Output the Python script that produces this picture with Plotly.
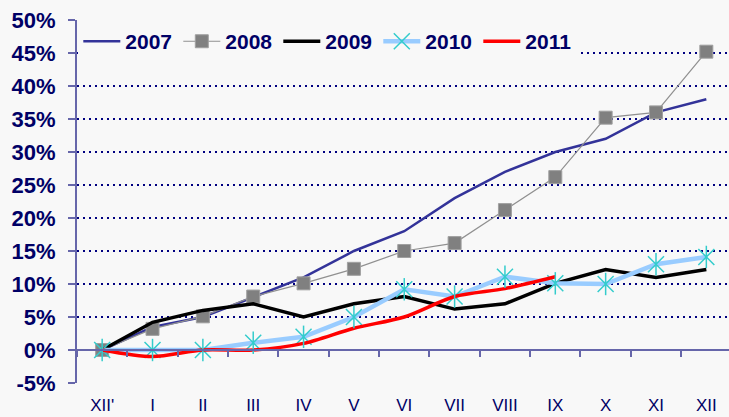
import plotly.graph_objects as go

# Month labels (XII' = December of the previous year)
months = ["XII'", "I", "II", "III", "IV", "V", "VI", "VII", "VIII", "IX", "X", "XI", "XII"]

# Cumulative change since previous December, percent
y2007 = [0, 3.5, 5, 8, 11, 15, 18, 23, 27, 30, 32, 36, 38]
y2008 = [0, 3.2, 5.1, 8.1, 10.1, 12.3, 15, 16.2, 21.2, 26.2, 35.2, 36, 45.2]
y2009 = [0, 4.2, 6, 7, 5, 7, 8.1, 6.2, 7, 10.1, 12.2, 11, 12.2]
y2010 = [0, 0, 0, 1.1, 2, 5, 9.2, 8.1, 11.1, 10.1, 10, 13, 14.1]
y2011 = [0, -1, 0, 0, 1, 3.3, 5, 8.1, 9.3, 11.1]

# Value axis ticks
ytick_vals = [-5, 0, 5, 10, 15, 20, 25, 30, 35, 40, 45, 50]
ytick_text = ["-5%", "0%", "5%", "10%", "15%", "20%", "25%", "30%", "35%", "40%", "45%", "50%"]

NAVY = "#000066"
AXIS = "#6666aa"
BG = "#f8f8f8"
YMIN, YMAX = -5, 50

xi = list(range(len(months)))

fig = go.Figure()

fig.add_trace(go.Scatter(
    x=xi, y=y2007, name="2007", mode="lines",
    line=dict(color="#333399", width=2.5),
))
fig.add_trace(go.Scatter(
    x=xi, y=y2008, name="2008", mode="lines+markers",
    line=dict(color="#909090", width=1.2),
    marker=dict(symbol="square", size=13, color="#808080",
                line=dict(color="#a0a0a0", width=1)),
))
fig.add_trace(go.Scatter(
    x=xi, y=y2009, name="2009", mode="lines",
    line=dict(color="#000000", width=3.5),
))
fig.add_trace(go.Scatter(
    x=xi, y=y2010, name="2010", mode="lines+markers",
    line=dict(color="#99ccff", width=4.5),
    marker=dict(symbol="x-thin-open", size=16, color="#33cccc",
                line=dict(color="#33cccc", width=1.5)),
))
fig.add_trace(go.Scatter(
    x=xi[:len(y2011)], y=y2011, name="2011", mode="lines",
    line=dict(color="#ff0000", width=3.5, shape="spline", smoothing=0.8),
))
# vertical stroke completing the star markers of 2010
fig.add_trace(go.Scatter(
    x=xi, y=y2010, mode="markers", showlegend=False, hoverinfo="skip",
    marker=dict(symbol="line-ns-open", size=16, color="#33cccc",
                line=dict(color="#33cccc", width=1.5)),
))
# carrier for the zero-level category axis
fig.add_trace(go.Scatter(
    x=[None], y=[None], xaxis="x2", showlegend=False, hoverinfo="skip",
))

xrange = [-0.5, 12.45]

fig.update_layout(
    width=729, height=417,
    margin=dict(l=77, r=0, t=20, b=34),
    paper_bgcolor=BG, plot_bgcolor=BG,
    showlegend=True,
    legend=dict(
        orientation="h", x=0.002, y=0.997, xanchor="left", yanchor="top",
        bgcolor=BG, borderwidth=0,
        font=dict(family="Liberation Sans", size=21, color=NAVY, weight="bold"),
        itemwidth=37, entrywidth=48,
    ),
    xaxis=dict(
        range=xrange, tickmode="array", tickvals=xi, ticktext=months,
        showgrid=False, zeroline=False, showline=False, ticks="",
        tickfont=dict(family="Liberation Sans", size=17, color=NAVY),
        ticklabelstandoff=10, automargin=False,
    ),
    xaxis2=dict(
        range=xrange, overlaying="x", anchor="free",
        position=(0 - YMIN) / (YMAX - YMIN),
        tickmode="linear", tick0=0.5, dtick=1,
        ticks="outside", ticklen=6, tickwidth=2, tickcolor=AXIS,
        showline=True, linecolor=AXIS, linewidth=2,
        showticklabels=False, showgrid=False, zeroline=False, automargin=False,
    ),
    yaxis=dict(
        range=[YMIN, YMAX], tickmode="array", tickvals=ytick_vals, ticktext=ytick_text,
        showgrid=True, gridcolor="#000080", gridwidth=1.5, griddash="2px,4px",
        zeroline=False, showline=True, linecolor=AXIS, linewidth=2,
        ticks="outside", ticklen=7, tickwidth=2, tickcolor=AXIS,
        tickfont=dict(family="Liberation Sans", size=22, color=NAVY, weight="bold"),
        ticklabelstandoff=8, automargin=False,
    ),
)

fig.write_html("out.html")
